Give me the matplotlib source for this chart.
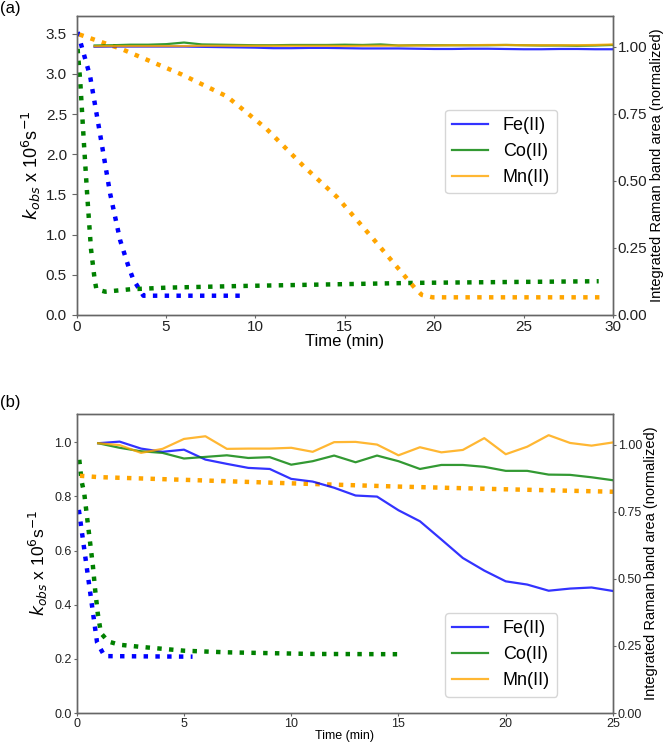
import matplotlib
matplotlib.use("Agg")
import matplotlib.pyplot as plt
import numpy as np

plt.rcParams['font.family'] = ['Liberation Sans', 'DejaVu Sans']
plt.rcParams['mathtext.fontset'] = 'dejavusans'

# ---------------- Panel (a) data ----------------
a_fe_k_t = [0.05, 0.75, 1.3, 1.87, 2.43, 2.9, 3.17, 3.73, 9.35]
a_fe_k = [3.52, 2.97, 2.26, 1.51, 0.93, 0.60, 0.44, 0.24, 0.24]
a_co_k_t = [0.05, 0.2, 0.4, 0.6, 0.8, 1.0, 1.1, 1.6, 3, 5, 9, 14, 19, 24, 29.2]
a_co_k = [3.31, 2.9, 2.15, 1.45, 0.82, 0.45, 0.32, 0.29, 0.32, 0.34, 0.36, 0.38, 0.40, 0.41, 0.42]
a_mn_k_t = [0.15, 2.5, 5.9, 8.4, 10.6, 12.7, 14.55, 16.5, 18.9, 19.3, 19.9, 25, 29.3]
a_mn_k = [3.49, 3.31, 2.99, 2.72, 2.32, 1.85, 1.47, 0.97, 0.34, 0.25, 0.22, 0.22, 0.22]

a_t = list(range(1, 31))
a_fe_r = [1.000, 1.001, 1.001, 1.001, 1.001, 1.001, 1.000, 0.999, 0.998, 0.997,
          0.995, 0.995, 0.996, 0.996, 0.995, 0.994, 0.994, 0.994, 0.993, 0.992,
          0.992, 0.993, 0.993, 0.992, 0.991, 0.991, 0.992, 0.992, 0.991, 0.991]
a_co_r = [1.005, 1.006, 1.008, 1.008, 1.010, 1.016, 1.009, 1.008, 1.007, 1.006,
          1.006, 1.007, 1.007, 1.007, 1.008, 1.007, 1.009, 1.005, 1.006, 1.006,
          1.006, 1.006, 1.006, 1.007, 1.006, 1.005, 1.005, 1.004, 1.005, 1.007]
a_mn_r = [1.002, 1.003, 1.003, 1.003, 1.003, 1.003, 1.004, 1.004, 1.004, 1.004,
          1.004, 1.004, 1.004, 1.004, 1.003, 1.004, 1.004, 1.005, 1.005, 1.005,
          1.006, 1.006, 1.007, 1.007, 1.006, 1.006, 1.006, 1.006, 1.007, 1.009]

# ---------------- Panel (b) data ----------------
b_fe_k_t = [0.1, 0.95, 1.3, 5.4]
b_fe_k = [0.75, 0.26, 0.21, 0.208]
b_co_k_t = [0.12, 0.23, 0.35, 0.48, 0.59, 0.75, 0.86, 0.98, 1.13, 1.47, 2, 3, 5, 7, 11, 15.2]
b_co_k = [0.935, 0.855, 0.812, 0.725, 0.652, 0.547, 0.455, 0.369, 0.295, 0.264,
          0.252, 0.244, 0.230, 0.224, 0.218, 0.217]
b_mn_k_t = [0.15, 1, 5, 10, 15, 20, 25]
b_mn_k = [0.876, 0.871, 0.861, 0.848, 0.836, 0.826, 0.817]

b_t = list(range(1, 26))
b_fe_r = [1.006, 1.012, 0.986, 0.974, 0.982, 0.945, 0.929, 0.914, 0.910, 0.873,
          0.863, 0.840, 0.811, 0.807, 0.756, 0.715, 0.647, 0.578, 0.531, 0.491,
          0.479, 0.456, 0.464, 0.468, 0.455]
b_co_r = [1.006, 0.989, 0.976, 0.970, 0.949, 0.955, 0.961, 0.951, 0.954, 0.926,
          0.939, 0.960, 0.935, 0.960, 0.939, 0.910, 0.925, 0.925, 0.918, 0.903,
          0.903, 0.889, 0.888, 0.879, 0.868]
b_mn_r = [1.006, 0.999, 0.970, 0.985, 1.022, 1.032, 0.985, 0.986, 0.986, 0.989,
          0.974, 1.010, 1.011, 1.001, 0.961, 0.991, 0.972, 0.981, 1.025, 0.965,
          0.993, 1.036, 1.007, 0.997, 1.009]

labels = ['Fe(II)', 'Co(II)', 'Mn(II)']
colors = ['blue', 'green', 'orange']

W, H = 666, 746
fig = plt.figure(figsize=(W / 100, H / 100), dpi=100)

spine_col = '#666666'


def style_spines(ax):
    for s in ax.spines.values():
        s.set_color(spine_col)
        s.set_linewidth(1.0)


def panel(rect, kt, kv, rt, rv, xmax, ylim_l, ylim_r, yticks_l, tick_fs,
          lab_fs, xlab_fs, rlab_fs, leg_anchor, left_len, left_pad, ylab_pad):
    ax = fig.add_axes(rect)
    for t, v, c in zip(kt, kv, colors):
        ax.plot(t, v, linestyle=':', color=c, linewidth=3.2)
    ax.set_xlim(0, xmax)
    ax.set_ylim(*ylim_l)
    ax.set_yticks(yticks_l)
    ax.yaxis.set_major_formatter(matplotlib.ticker.FormatStrFormatter('%.1f'))
    ax.set_xticks(np.arange(0, xmax + 1, 5))
    ax.set_ylabel(r'$k_{obs}$ x 10$^6$s$^{-1}$', fontsize=lab_fs, labelpad=ylab_pad)
    ax.set_xlabel('Time (min)', fontsize=xlab_fs, labelpad=0)
    style_spines(ax)
    ax.tick_params(axis='x', labelsize=tick_fs, length=2.5, width=0.8,
                   pad=1.0, color=spine_col, labelcolor='#222222')
    ax.tick_params(axis='y', labelsize=tick_fs, length=left_len, width=0.8,
                   pad=left_pad, color=spine_col, labelcolor='#222222')
    ax2 = ax.twinx()
    for t, v, c, l in zip(rt, rv, colors, labels):
        ax2.plot(t, v, color=c, linewidth=1.6, alpha=0.8, label=l)
    ax2.set_ylim(*ylim_r)
    ax2.set_yticks([0, 0.25, 0.5, 0.75, 1.0])
    ax2.yaxis.set_major_formatter(matplotlib.ticker.FormatStrFormatter('%.2f'))
    ax2.set_ylabel('Integrated Raman band area (normalized)', fontsize=rlab_fs,
                   labelpad=1.5)
    style_spines(ax2)
    ax2.tick_params(axis='y', labelsize=tick_fs, length=2.5, width=0.8,
                    pad=1.0, color=spine_col, labelcolor='#222222')
    ax2.legend(loc='upper left', bbox_to_anchor=leg_anchor, borderaxespad=0,
               fontsize=13, handlelength=2.0)
    return ax, ax2


# panel (a)
ax_a, ax_a2 = panel([76.7 / W, 1 - 315 / H, (613 - 76.7) / W, 299 / H],
                    [a_fe_k_t, a_co_k_t, a_mn_k_t], [a_fe_k, a_co_k, a_mn_k],
                    [a_t, a_t, a_t], [a_fe_r, a_co_r, a_mn_r],
                    30, (0, 3.72), (0, 1.115), np.arange(0, 3.51, 0.5), 11,
                    13, 12, 10.5, (0.687, 0.686), 3.5, 3.5, 2)

# panel (b)
ax_b, ax_b2 = panel([76.7 / W, 1 - 713 / H, (613 - 76.7) / W, 299 / H],
                    [b_fe_k_t, b_co_k_t, b_mn_k_t], [b_fe_k, b_co_k, b_mn_k],
                    [b_t, b_t, b_t], [b_fe_r, b_co_r, b_mn_r],
                    25, (0, 1.104), (0, 1.115), np.arange(0, 1.01, 0.2), 9,
                    12.5, 9, 10.5, (0.687, 0.334), 2.0, 1.5, 3)

fig.text(0.0, 1 - 8 / H, '(a)', fontsize=12, va='center', ha='left')
fig.text(0.0, 1 - 403 / H, '(b)', fontsize=12, va='center', ha='left')

fig.savefig('out.png', dpi=100)
